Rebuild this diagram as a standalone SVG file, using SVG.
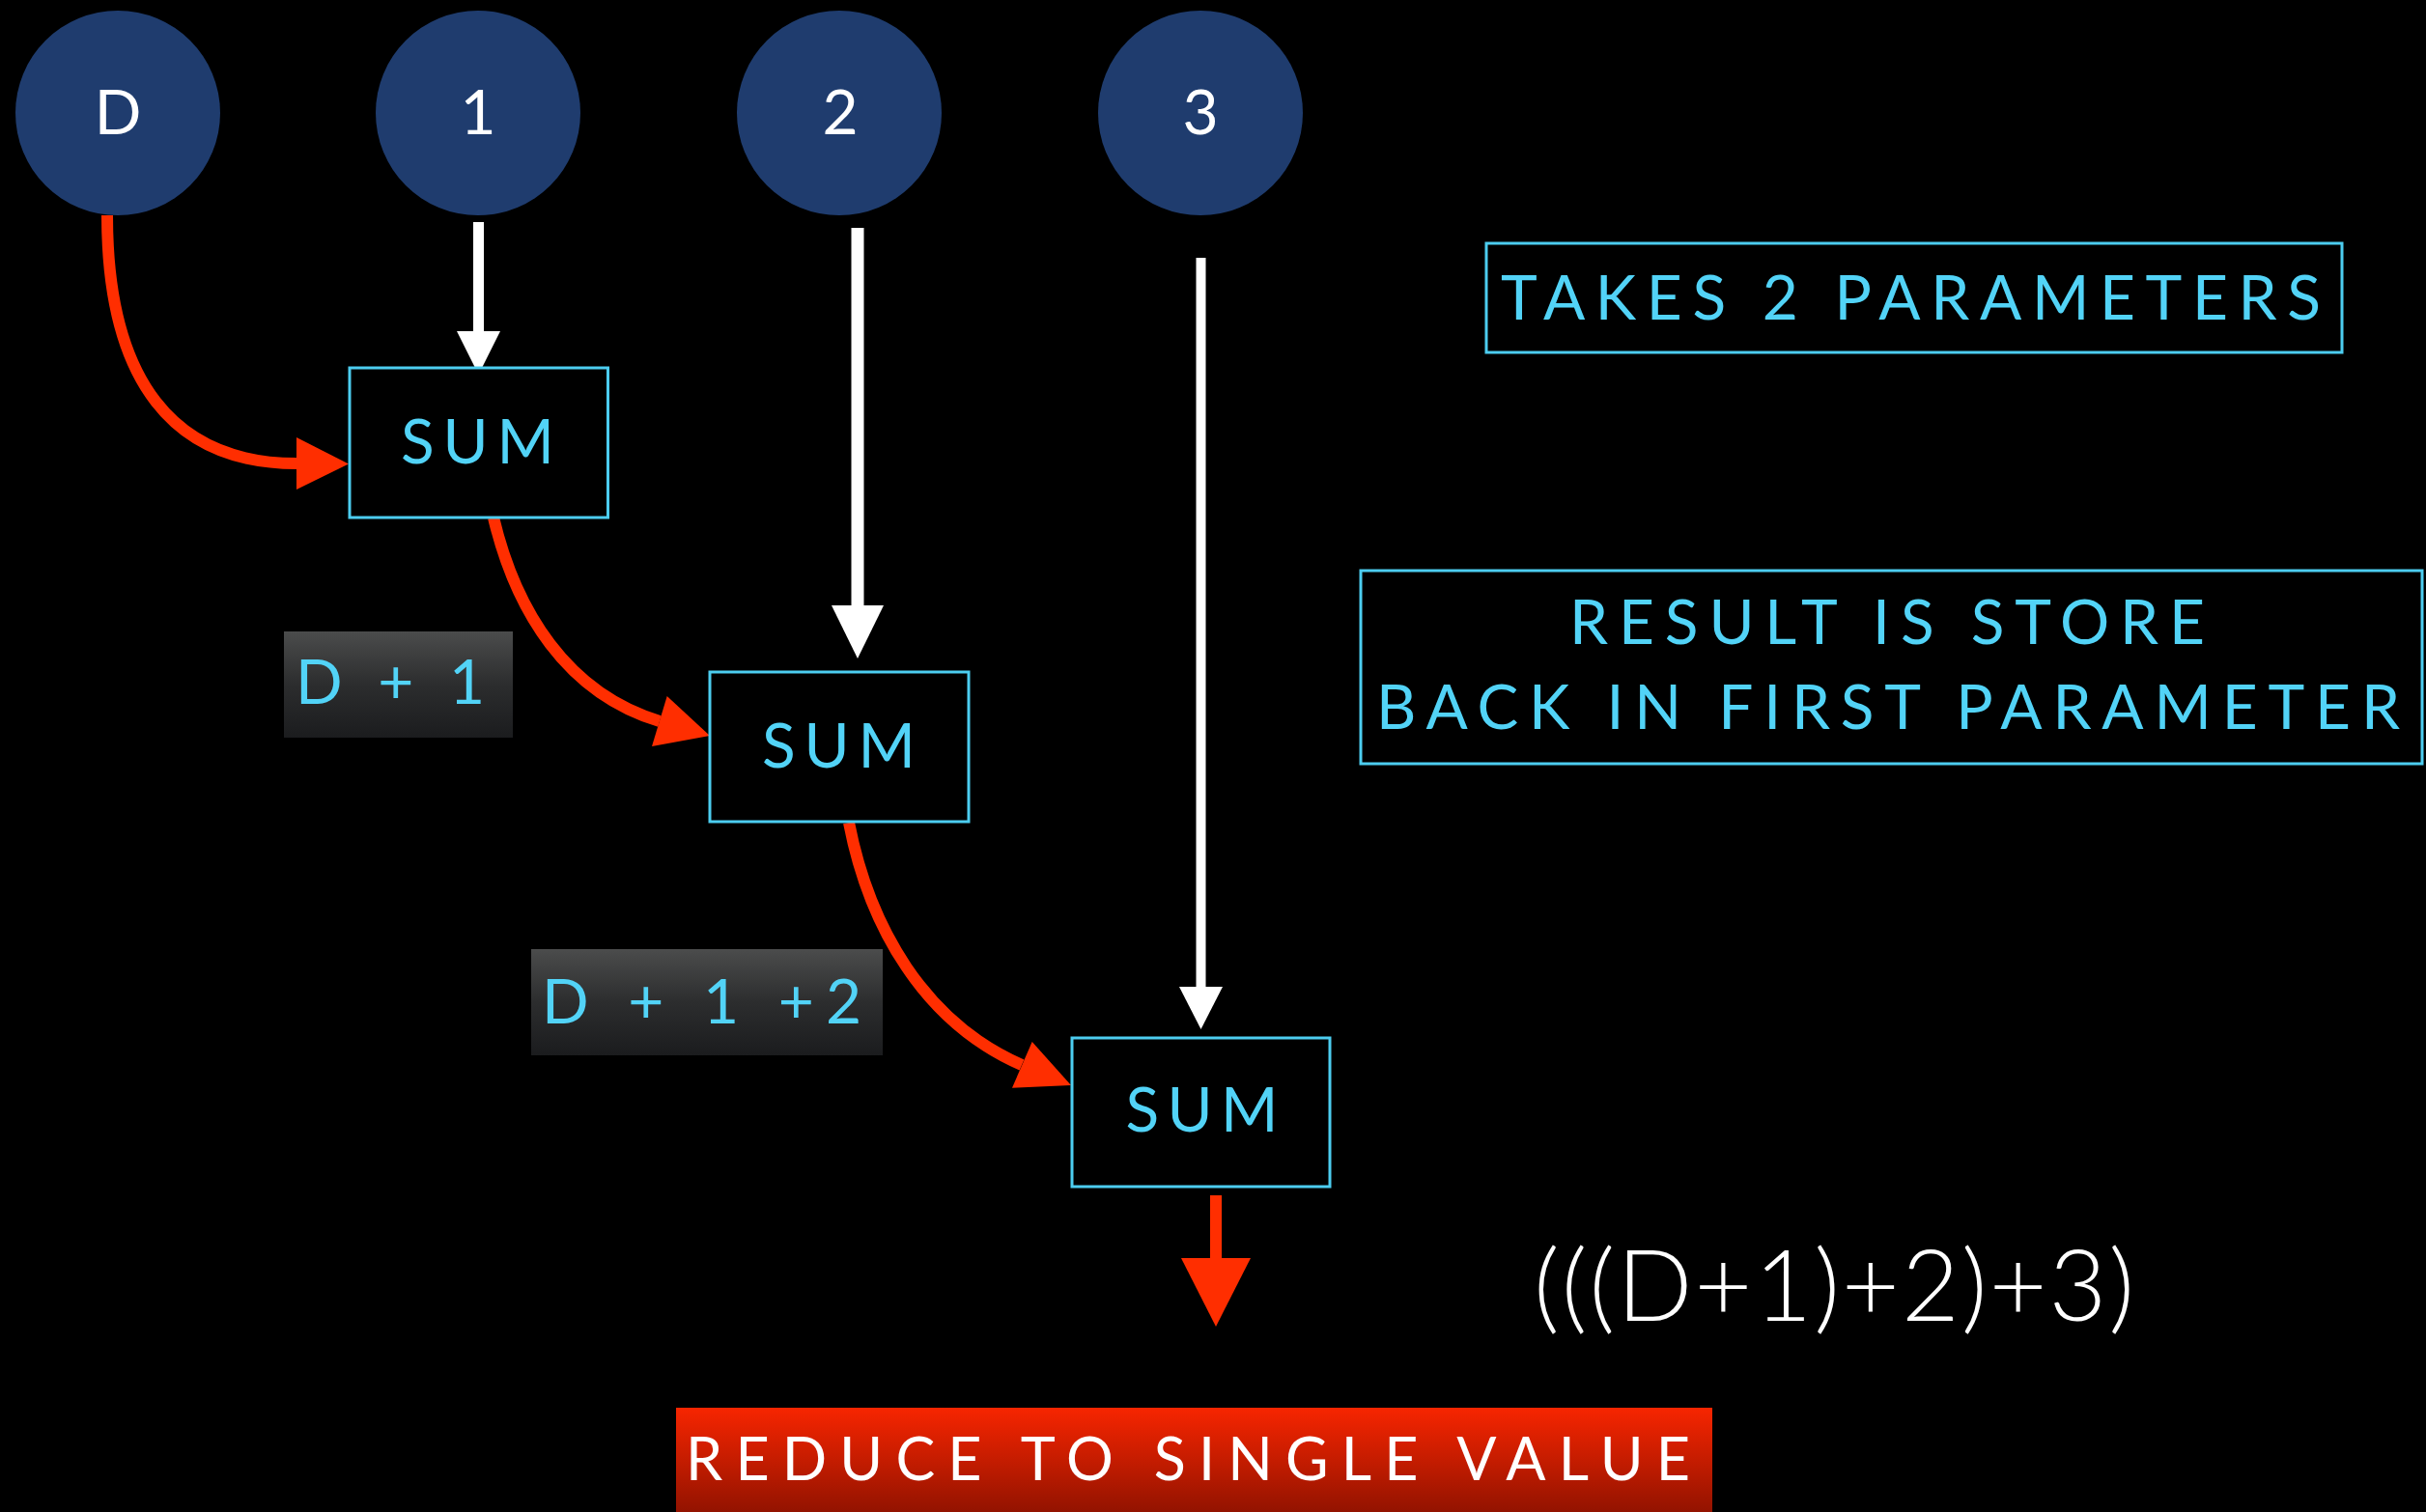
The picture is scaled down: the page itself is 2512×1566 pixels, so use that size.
<svg xmlns="http://www.w3.org/2000/svg" width="2512" height="1566" viewBox="0 0 2512 1566">
  <style>
    .bg { fill: #000000; }
    .inp circle { fill: #1f3c6e; }
    .inp text { fill: #ffffff; font-family: Lato, "Open Sans", "Liberation Sans", sans-serif; font-size: 64px; text-anchor: middle; }
    .box rect { fill: #000000; stroke: #4ccdf0; stroke-width: 3; }
    .cyan { fill: #52d3f7; font-family: Lato, "Open Sans", "Liberation Sans", sans-serif; font-size: 64px; }
    .tag rect { fill: url(#tagGrad); }
    .flow { fill: none; stroke: #ff2e00; stroke-width: 12; }
    .flowHead { fill: #ff2e00; }
    .feed { fill: none; stroke: #ffffff; }
    .feedHead { fill: #ffffff; }
    .formula { fill: #ffffff; font-family: Lato, "Open Sans", "Liberation Sans", sans-serif; font-weight: 300; font-size: 103px; }
    .banner text { fill: #ffffff; font-family: Lato, "Open Sans", "Liberation Sans", sans-serif; font-size: 61px; }
  </style>
  <defs>
    <linearGradient id="tagGrad" x1="0" y1="0" x2="0" y2="1">
      <stop offset="0" stop-color="#4b4c4c"/>
      <stop offset="0.5" stop-color="#2c2d2e"/>
      <stop offset="1" stop-color="#1b1c1e"/>
    </linearGradient>
    <linearGradient id="bannerGrad" x1="0" y1="0" x2="0" y2="1">
      <stop offset="0" stop-color="#f72500"/>
      <stop offset="1" stop-color="#931300"/>
    </linearGradient>
  </defs>

  <rect class="bg" x="0" y="0" width="2512" height="1566"/>

  <!-- connectors -->
  <g id="connectors">
    <!-- white inputs feeding each SUM -->
    <line class="feed" x1="495.5" y1="230" x2="495.5" y2="345" stroke-width="11"/>
    <polygon class="feedHead" points="473,343 518,343 495.5,388"/>
    <line class="feed" x1="888" y1="236" x2="888" y2="629" stroke-width="13"/>
    <polygon class="feedHead" points="861,627 915,627 888,682"/>
    <line class="feed" x1="1243.5" y1="267" x2="1243.5" y2="1024" stroke-width="10"/>
    <polygon class="feedHead" points="1221,1022 1266,1022 1243.5,1066"/>

    <!-- red accumulator flow -->
    <path class="flow" d="M111,223 C111,395 180,480 307,480"/>
    <polygon class="flowHead" points="307,453 361,480.5 307,507"/>
    <path class="flow" d="M511,536 C534,633 587,718 683,747"/>
    <polygon class="flowHead" points="690.7,721 735,762 675,773"/>
    <path class="flow" d="M879,852 C900,960 957,1059 1058,1103"/>
    <polygon class="flowHead" points="1068.7,1079 1109,1124 1048,1126.7"/>

    <!-- final result down arrow -->
    <line class="flow" x1="1259" y1="1238" x2="1259" y2="1305" stroke-width="17"/>
    <polygon class="flowHead" points="1223,1303 1295,1303 1259,1374"/>
  </g>

  <!-- input values -->
  <g id="inD" class="inp">
    <circle cx="122" cy="117" r="106"/>
    <text x="122" y="139">D</text>
  </g>
  <g id="in1" class="inp">
    <circle cx="495" cy="117" r="106"/>
    <text x="495" y="139">1</text>
  </g>
  <g id="in2" class="inp">
    <circle cx="869" cy="117" r="106"/>
    <text x="870" y="139">2</text>
  </g>
  <g id="in3" class="inp">
    <circle cx="1243" cy="117" r="106"/>
    <text x="1243" y="139">3</text>
  </g>

  <!-- SUM steps -->
  <g id="sum1" class="box">
    <rect x="362" y="381" width="267.5" height="155"/>
    <text class="cyan" x="415" y="480" textLength="159" lengthAdjust="spacing">SUM</text>
  </g>
  <g id="sum2" class="box">
    <rect x="735" y="696" width="268" height="155"/>
    <text class="cyan" x="789" y="795" textLength="159" lengthAdjust="spacing">SUM</text>
  </g>
  <g id="sum3" class="box">
    <rect x="1110" y="1075" width="267" height="154"/>
    <text class="cyan" x="1165.5" y="1172" textLength="158" lengthAdjust="spacing">SUM</text>
  </g>

  <!-- intermediate value tags -->
  <g id="tag1" class="tag">
    <rect x="294" y="654" width="237" height="110"/>
    <text class="cyan" x="306" y="728.5" textLength="196" lengthAdjust="spacing">D + 1</text>
  </g>
  <g id="tag2" class="tag">
    <rect x="550" y="983" width="364" height="110"/>
    <text class="cyan" x="561" y="1059.5" textLength="331" lengthAdjust="spacing">D + 1 +2</text>
  </g>

  <!-- notes -->
  <g id="note1" class="box">
    <rect x="1539" y="252" width="886" height="113"/>
    <text class="cyan" x="1554" y="330.5" font-size="63" textLength="849" lengthAdjust="spacing">TAKES 2 PARAMETERS</text>
  </g>
  <g id="note2" class="box">
    <rect x="1409" y="591" width="1099" height="200"/>
    <text class="cyan" x="1625" y="667" font-size="63" textLength="658" lengthAdjust="spacing">RESULT IS STORE</text>
    <text class="cyan" x="1425" y="755" font-size="63" textLength="1060" lengthAdjust="spacing">BACK IN FIRST PARAMETER</text>
  </g>

  <!-- expression -->
  <g id="expr">
    <text class="formula" x="1588" y="1368" textLength="622" lengthAdjust="spacing">(((D+1)+2)+3)</text>
  </g>

  <!-- result banner -->
  <g id="banner" class="banner">
    <rect x="700" y="1458" width="1073" height="108" fill="url(#bannerGrad)"/>
    <text x="710" y="1533" textLength="1040" lengthAdjust="spacing">REDUCE TO SINGLE VALUE</text>
  </g>
</svg>
